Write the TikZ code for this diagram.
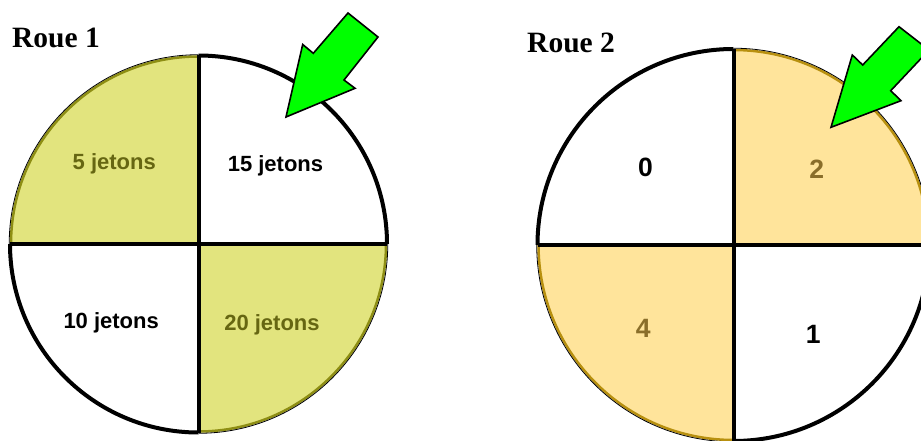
\documentclass[tikz,border=0pt]{standalone}
\usepackage{fontspec}
\setmainfont{Liberation Serif}
\setsansfont{Liberation Sans}
\definecolor{olivefill}{HTML}{E2E47E}
\definecolor{oliveline}{HTML}{8E8E14}
\definecolor{olivetext}{HTML}{666612}
\definecolor{yelfill}{HTML}{FFE49B}
\definecolor{yelline}{HTML}{B8900F}
\definecolor{yeltext}{HTML}{8A6E2A}
\definecolor{arrowgreen}{HTML}{00FF00}
\tikzset{
  title/.style={anchor=base west, inner sep=0pt, font=\fontsize{29.5}{29.5}\selectfont\bfseries},
  jlabel/.style={anchor=base, inner sep=0pt, font=\fontsize{22}{22}\selectfont\sffamily\bfseries},
  nlabel/.style={anchor=base, inner sep=0pt, font=\fontsize{26.5}{26.5}\selectfont\sffamily\bfseries},
  rim/.style={line width=4pt, black},
  crossline/.style={line width=4pt, black},
  bigarrow/.style={fill=arrowgreen, draw=black, line width=1.6pt, line join=miter},
}
\begin{document}
\begin{tikzpicture}[x=1pt,y=1pt]
\useasboundingbox (0,0) rectangle (921,440);
\clip (0,0) rectangle (921,440);
\fill[white] (0,0) rectangle (921,440);

% ---------- Wheel 1 ----------
\coordinate (c1) at (198.5,196);
\def\ra{188.5}
\fill[olivefill] (c1) -- ++(90:\ra) arc (90:180:\ra) -- cycle;
\fill[olivefill] (c1) -- ++(270:\ra) arc (270:360:\ra) -- cycle;
\draw[oliveline, line width=2.5pt] ([shift={(90:\ra-1)}]c1) arc (90:180:\ra-1);
\draw[oliveline, line width=2.5pt] ([shift={(270:\ra-1)}]c1) arc (270:360:\ra-1);
\draw[black, line width=0.8pt] ([shift={(90:\ra+0.8)}]c1) arc (90:180:\ra+0.8);
\draw[black, line width=0.8pt] ([shift={(270:\ra+0.8)}]c1) arc (270:360:\ra+0.8);
\draw[rim] ([shift={(0:\ra)}]c1) arc (0:90:\ra);
\draw[rim] ([shift={(180:\ra)}]c1) arc (180:270:\ra);
\draw[crossline] ([shift={(-\ra,0)}]c1) -- ([shift={(\ra,0)}]c1);
\draw[crossline] ([shift={(0,-\ra)}]c1) -- ([shift={(0,\ra)}]c1);

\node[title] (r1) at (12,392.3) {Roue 1};
\node[jlabel, text=olivetext] (j5) at (114.3,270) {5 jetons};
\node[jlabel] (j15) at (275.5,268.3) {15 jetons};
\node[jlabel] (j10) at (111.2,112) {10 jetons};
\node[jlabel, text=olivetext] (j20) at (272,110) {20 jetons};

\draw[bigarrow] (286,323) -- (302.7,395.5) -- (313.3,386.7) -- (348,427)
  -- (378,403) -- (344,360) -- (355,351.7) -- cycle;

% ---------- Wheel 2 ----------
\coordinate (c2) at (733.5,195);
\def\rb{196}
\fill[yelfill] (c2) -- ++(0:\rb) arc (0:90:\rb) -- cycle;
\fill[yelfill] (c2) -- ++(180:\rb) arc (180:270:\rb) -- cycle;
\draw[yelline, line width=2.5pt] ([shift={(0:\rb-1)}]c2) arc (0:90:\rb-1);
\draw[yelline, line width=2.5pt] ([shift={(180:\rb-1)}]c2) arc (180:270:\rb-1);
\draw[black, line width=0.8pt] ([shift={(0:\rb+0.8)}]c2) arc (0:90:\rb+0.8);
\draw[black, line width=0.8pt] ([shift={(180:\rb+0.8)}]c2) arc (180:270:\rb+0.8);
\draw[rim] ([shift={(90:\rb)}]c2) arc (90:180:\rb);
\draw[rim] ([shift={(270:\rb)}]c2) arc (270:360:\rb);
\draw[crossline] ([shift={(-\rb,0)}]c2) -- ([shift={(\rb,0)}]c2);
\draw[crossline] ([shift={(0,-\rb)}]c2) -- ([shift={(0,\rb)}]c2);

\node[title] (r2) at (527,387.3) {Roue 2};
\node[nlabel] (n0) at (645.5,263.3) {0};
\node[nlabel, text=yeltext] (n2) at (816.7,261.7) {2};
\node[nlabel, text=yeltext] (n4) at (643.3,102.7) {4};
\node[nlabel] (n1) at (813.3,96.7) {1};

\draw[bigarrow] (831,312.7) -- (852.3,385) -- (862.7,375) -- (899,413.3)
  -- (929,390) -- (890.7,349.3) -- (901,339.3) -- cycle;
\end{tikzpicture}
\end{document}
